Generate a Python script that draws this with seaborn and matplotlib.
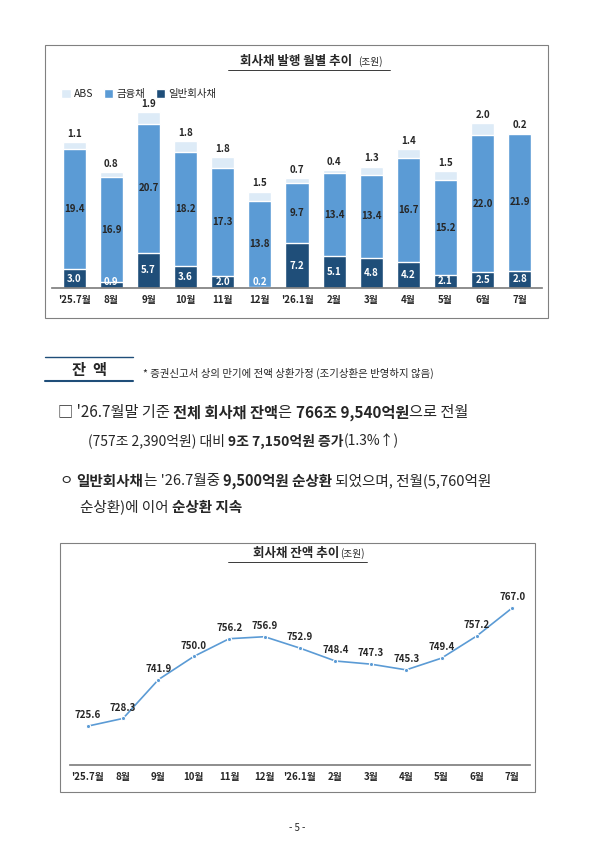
import matplotlib
matplotlib.use("Agg")
import matplotlib.pyplot as plt
import seaborn as sns
import pandas as pd
from matplotlib.patches import Rectangle

sns.set_theme(style="white")
plt.rcParams['font.family'] = ['Noto Sans CJK KR', 'DejaVu Sans']

months = ["'25.7월", "8월", "9월", "10월", "11월", "12월", "'26.1월", "2월", "3월", "4월", "5월", "6월", "7월"]
general = [3.0, 0.9, 5.7, 3.6, 2.0, 0.2, 7.2, 5.1, 4.8, 4.2, 2.1, 2.5, 2.8]
finance = [19.4, 16.9, 20.7, 18.2, 17.3, 13.8, 9.7, 13.4, 13.4, 16.7, 15.2, 22.0, 21.9]
abs_ = [1.1, 0.8, 1.9, 1.8, 1.8, 1.5, 0.7, 0.4, 1.3, 1.4, 1.5, 2.0, 0.2]
balance = [725.6, 728.3, 741.9, 750.0, 756.2, 756.9, 752.9, 748.4, 747.3, 745.3, 749.4, 757.2, 767.0]

W, H = 595, 841
fig = plt.figure(figsize=(W/100, H/100), dpi=100)
renderer = fig.canvas.get_renderer()

def ax_px(x0, y0, x1, y1):
    return fig.add_axes([x0/W, 1-y1/H, (x1-x0)/W, (y1-y0)/H])

def ftext(x, y, s, **kw):
    return fig.text(x/W, 1-y/H, s, **kw)

def runs(x, y, parts, fontsize):
    for s, b in parts:
        t = ftext(x, y, s, ha='left', va='center', fontsize=fontsize, fontweight='bold' if b else 'normal')
        bb = t.get_window_extent(renderer=renderer)
        x += bb.width

for (x0, y0, x1, y1) in [(45, 45, 548, 318), (60, 543, 535, 792)]:
    fig.patches.append(Rectangle((x0/W, 1-y1/H), (x1-x0)/W, (y1-y0)/H, transform=fig.transFigure,
                                 fill=False, ec='#808080', lw=0.8))

# top chart
ax = ax_px(52, 95, 542, 288)
df = pd.DataFrame({'m': months, 'g': general, 'f': finance, 'a': abs_})
df['gf'] = df.g + df.f
df['tot'] = df.gf + df.a
sns.barplot(data=df, x='m', y='tot', color='#DDEBF7', width=0.62, ax=ax, label='ABS', saturation=1)
sns.barplot(data=df, x='m', y='gf', color='#5B9BD5', width=0.62, ax=ax, label='금융채', saturation=1)
sns.barplot(data=df, x='m', y='g', color='#1F4E79', width=0.62, ax=ax, label='일반회사채', saturation=1)
for i in range(len(months)):
    ax.text(i, df.tot[i] + 0.5, f"{abs_[i]:.1f}", ha='center', va='bottom', fontsize=7, fontweight='bold')
    ax.text(i, general[i] + finance[i]/2, f"{finance[i]:.1f}", ha='center', va='center', fontsize=7, fontweight='bold')
    ax.text(i, max(general[i]/2, 0.9), f"{general[i]:.1f}", ha='center', va='center', fontsize=7,
            fontweight='bold', color='white')
ax.set_ylim(0, 31)
ax.set_xlim(-0.6, 12.6)
ax.set_yticks([]); ax.set_xlabel(''); ax.set_ylabel('')
ax.tick_params(axis='x', labelsize=7, length=0, pad=5)
for l in ax.get_xticklabels():
    l.set_fontweight('bold')
for s in ['top', 'left', 'right']:
    ax.spines[s].set_visible(False)
ax.spines['bottom'].set_color('#808080')
ax.legend(loc='upper left', bbox_to_anchor=(0.0, 1.08), ncol=3, frameon=False, fontsize=7.5,
          handlelength=0.9, handleheight=0.9, columnspacing=1.0, handletextpad=0.3)
ftext(296, 62, '회사채 발행 월별 추이', ha='center', va='center', fontsize=9, fontweight='bold')
ftext(370, 62, '(조원)', ha='center', va='center', fontsize=7)
fig.lines.append(plt.Line2D([228/W, 390/W], [1-70/H, 1-70/H], transform=fig.transFigure, color='k', lw=0.6))

# section
ftext(89, 370, '잔  액', ha='center', va='center', fontsize=11, fontweight='bold')
fig.lines.append(plt.Line2D([45/W, 133/W], [1-357/H]*2, transform=fig.transFigure, color='#1F4E79', lw=1))
fig.lines.append(plt.Line2D([45/W, 133/W], [1-381/H]*2, transform=fig.transFigure, color='#1F4E79', lw=1.5))
ftext(143, 373, '* 증권신고서 상의 만기에 전액 상환가정 (조기상환은 반영하지 않음)', ha='left', va='center', fontsize=7.5)

runs(58, 413, [("□ '26.7월말 기준 ", False), ("전체 회사채 잔액", True), ("은 ", False),
               ("766조 9,540억원", True), ("으로 전월", False)], 11)
runs(88, 441, [("(757조 2,390억원) 대비 ", False), ("9조 7,150억원 증가", True), ("(1.3%↑)", False)], 10)
runs(60, 481, [("ㅇ ", False), ("일반회사채", True), ("는 '26.7월중 ", False), ("9,500억원 순상환", True),
               (" 되었으며, 전월(5,760억원", False)], 10.5)
runs(80, 507, [("순상환)에 이어 ", False), ("순상환 지속", True)], 10.5)

# bottom chart
ftext(296, 554, '회사채 잔액 추이', ha='center', va='center', fontsize=9, fontweight='bold')
ftext(352, 554, '(조원)', ha='center', va='center', fontsize=7)
fig.lines.append(plt.Line2D([228/W, 367/W], [1-562/H]*2, transform=fig.transFigure, color='k', lw=0.6))
ax2 = ax_px(70, 585, 530, 765)
dfl = pd.DataFrame({'m': months, 'v': balance})
sns.lineplot(data=dfl, x='m', y='v', ax=ax2, color='#5B9BD5', marker='o', markersize=3, lw=1.2, sort=False)
for i, v in enumerate(balance):
    ax2.text(i, v + 2.0, f"{v:.1f}", ha='center', va='bottom', fontsize=7, fontweight='bold')
ax2.set_ylim(712, 775)
ax2.set_xlim(-0.5, 12.5)
ax2.set_yticks([]); ax2.set_xlabel(''); ax2.set_ylabel('')
ax2.tick_params(axis='x', labelsize=7, length=0, pad=5)
for l in ax2.get_xticklabels():
    l.set_fontweight('bold')
for s in ['top', 'left', 'right']:
    ax2.spines[s].set_visible(False)
ax2.spines['bottom'].set_color('#808080')

ftext(297, 828, '- 5 -', ha='center', va='center', fontsize=7)
fig.savefig('out.png', dpi=100)
